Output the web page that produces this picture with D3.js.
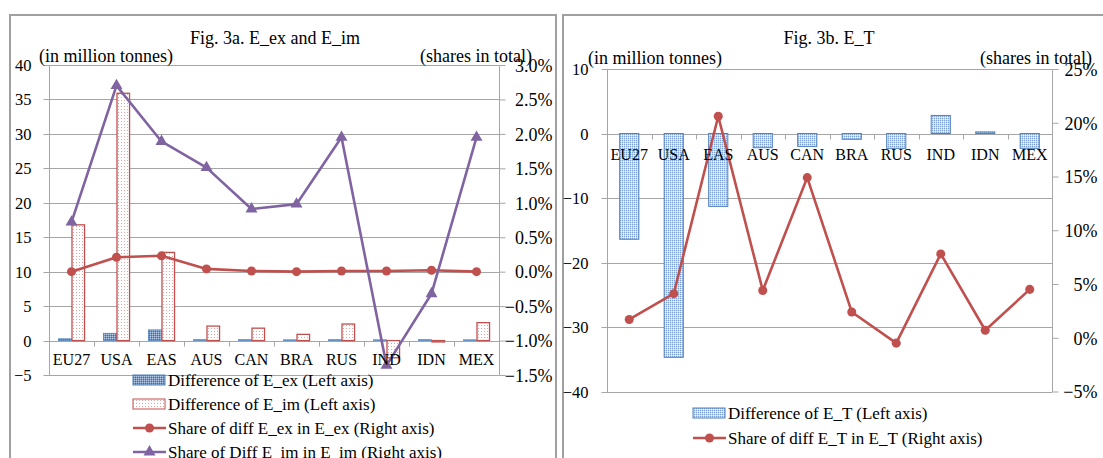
<!DOCTYPE html>
<html>
<head>
<meta charset="utf-8">
<script src="https://cdn.jsdelivr.net/npm/d3@7"></script>
<style>
  body { margin: 0; background: #fff; }
  text { font-family: "Liberation Serif", "Times New Roman", serif; fill: #000; }
</style>
</head>
<body>
<svg id="chart" width="1103" height="458"></svg>
<script>
// Regions, in chart order
const categories = ["EU27", "USA", "EAS", "AUS", "CAN", "BRA", "RUS", "IND", "IDN", "MEX"];

// Fig. 3a: differences (million tonnes) and shares (%)
const diffEx  = [0.25, 1.05, 1.55, 0.12, 0.12, 0.10, 0.12, 0.10, 0.12, 0.10];
const diffIm  = [16.8, 35.9, 12.8, 2.1, 1.8, 0.9, 2.4, -2.5, -0.2, 2.6];
const shareEx = [0.00, 0.21, 0.23, 0.04, 0.01, 0.00, 0.01, 0.01, 0.02, 0.00];
const shareIm = [0.72, 2.70, 1.89, 1.51, 0.91, 0.98, 1.95, -1.36, -0.32, 1.95];

// Fig. 3b: difference of E_T (million tonnes) and its share (%)
const diffT  = [-16.4, -34.7, -11.3, -2.2, -2.0, -0.9, -2.3, 2.8, 0.25, -2.3];
const shareT = [1.7, 4.1, 20.6, 4.4, 14.9, 2.4, -0.5, 7.8, 0.7, 4.5];

// Axis ticks
const ticksA  = [-5, 0, 5, 10, 15, 20, 25, 30, 35, 40];
const ticksAR = [-1.5, -1.0, -0.5, 0.0, 0.5, 1.0, 1.5, 2.0, 2.5, 3.0];
const ticksB  = [-40, -30, -20, -10, 0, 10];
const ticksBR = [-5, 0, 5, 10, 15, 20, 25];

const GRID = "#a6a6a6";
const RED = "#c0504d";
const PURPLE = "#8064a2";
const BLUE = "#4f81bd";

const svg = d3.select("#chart");
const defs = svg.append("defs");

// Textured fills for the bars
function pattern(id, w, bg, dots) {
  const p = defs.append("pattern").attr("id", id)
    .attr("patternUnits", "userSpaceOnUse").attr("width", w).attr("height", w);
  p.append("rect").attr("width", w).attr("height", w).attr("fill", bg);
  dots.forEach(d => p.append("rect").attr("x", d[0]).attr("y", d[1])
    .attr("width", 1).attr("height", 1).attr("fill", d[2]));
}
pattern("patEx", 2, "#6f98d2", [[0, 0, "#b8cdea"], [1, 1, "#3f6fb0"]]);
pattern("patT", 2, "#c9d8ee", [[0, 0, "#7fa2d3"], [1, 1, "#eef3fa"]]);
pattern("patIm", 3, "#ffffff", [[1, 1, "#e2a3a1"]]);

// Panel frames
svg.append("rect").attr("x", 10).attr("y", 15).attr("width", 546).attr("height", 460)
  .attr("fill", "none").attr("stroke", "#a0a0a0").attr("stroke-width", 2);
svg.append("rect").attr("x", 563).attr("y", 15).attr("width", 560).attr("height", 460)
  .attr("fill", "none").attr("stroke", "#a0a0a0").attr("stroke-width", 2);

function styleAxis(g) {
  g.select(".domain").remove();
  g.selectAll(".tick line").attr("stroke", GRID);
}

function panel(opt) {
  const g = svg.append("g");
  const x = d3.scaleBand().domain(categories).range([opt.x0, opt.x1]);
  const yL = d3.scaleLinear().domain(opt.leftDomain).range([opt.yBottom, opt.yTop]);
  const yR = d3.scaleLinear().domain(opt.rightDomain).range([opt.yBottom, opt.yTop]);

  // horizontal gridlines
  g.append("g").selectAll("line").data(opt.leftTicks).join("line")
    .attr("x1", opt.x0).attr("x2", opt.x1)
    .attr("y1", d => Math.round(yL(d)) + 0.5).attr("y2", d => Math.round(yL(d)) + 0.5)
    .attr("stroke", GRID).attr("stroke-width", 1);

  // plot area left and right edges
  [opt.x0, opt.x1].forEach(xx => g.append("line")
    .attr("x1", Math.round(xx) + 0.5).attr("x2", Math.round(xx) + 0.5)
    .attr("y1", Math.round(yL(opt.leftDomain[1])) + 0.5)
    .attr("y2", Math.round(yL(opt.leftDomain[0])) + 0.5)
    .attr("stroke", GRID));

  // left value axis
  const aL = g.append("g").attr("transform", `translate(${Math.round(opt.x0) + 0.5},0)`)
    .call(d3.axisLeft(yL).tickValues(opt.leftTicks).tickSize(6).tickPadding(opt.leftPad)
      .tickFormat(d3.format("d")));
  styleAxis(aL);
  aL.selectAll(".tick").attr("transform", d => `translate(0,${Math.round(yL(d)) + 0.5})`);
  aL.selectAll("text").style("font-size", "16.5px").attr("dy", "0.35em");

  // right share axis
  const aR = g.append("g").attr("transform", `translate(${Math.round(opt.x1) + 0.5},0)`)
    .call(d3.axisRight(yR).tickValues(opt.rightTicks).tickSize(6)
      .tickFormat(opt.rightFormat));
  styleAxis(aR);
  aR.selectAll("text").attr("x", opt.rightLabelEnd).attr("text-anchor", "end")
    .style("font-size", "18px").attr("dy", "0.35em");

  // category axis along zero
  const y0 = Math.round(yL(0)) + 0.5;
  g.append("line").attr("x1", opt.x0).attr("x2", opt.x1).attr("y1", y0).attr("y2", y0)
    .attr("stroke", GRID);
  const bounds = categories.map(c => x(c)).concat([opt.x1]);
  g.append("g").selectAll("line").data(bounds).join("line")
    .attr("x1", d => Math.round(d) + 0.5).attr("x2", d => Math.round(d) + 0.5)
    .attr("y1", y0).attr("y2", y0 + 5).attr("stroke", GRID);

  const plot = g.append("g");
  const labels = g.append("g");
  labels.selectAll("text").data(categories).join("text")
    .attr("x", d => x(d) + x.bandwidth() / 2)
    .attr("y", y0 + opt.catOffset).attr("dy", "0.35em")
    .attr("text-anchor", "middle").style("font-size", "16px").text(d => d);

  // titles
  g.append("text").attr("x", opt.titleX).attr("y", 38).attr("dy", "0.35em")
    .attr("text-anchor", "middle").style("font-size", "18px").text(opt.title);
  g.append("text").attr("x", opt.unitX).attr("y", opt.unitY).attr("dy", "0.35em")
    .style("font-size", "18px").text("(in million tonnes)");
  g.append("text").attr("x", opt.shareEnd).attr("y", opt.unitY).attr("dy", "0.35em")
    .attr("text-anchor", "end").style("font-size", "18px").text("(shares in total)");

  return { g, plot, x, yL, yR };
}

const pct1 = d => d3.format(".1f")(d) + "%";
const pct0 = d => d3.format("d")(d) + "%";

// ---------- Fig. 3a ----------
const A = panel({
  x0: 49, x1: 499, yTop: 65, yBottom: 375,
  leftDomain: [-5, 40], rightDomain: [-1.5, 3.0],
  leftTicks: ticksA, rightTicks: ticksAR, rightFormat: pct1,
  leftPad: 12, rightLabelEnd: 53, catOffset: 18,
  title: "Fig. 3a. E_ex and E_im", titleX: 275,
  unitX: 39, unitY: 56, shareEnd: 532
});

const barW = A.x.bandwidth() * 0.29;
A.plot.append("g").selectAll("rect").data(diffEx).join("rect")
  .attr("x", (d, i) => A.x(categories[i]) + A.x.bandwidth() / 2 - barW)
  .attr("y", d => A.yL(Math.max(0, d)))
  .attr("width", barW)
  .attr("height", d => Math.abs(A.yL(d) - A.yL(0)))
  .attr("fill", "url(#patEx)").attr("stroke", BLUE).attr("stroke-width", 0.8);

A.plot.append("g").selectAll("rect").data(diffIm).join("rect")
  .attr("x", (d, i) => A.x(categories[i]) + A.x.bandwidth() / 2 + 0.5)
  .attr("y", d => A.yL(Math.max(0, d)))
  .attr("width", barW - 0.5)
  .attr("height", d => Math.abs(A.yL(d) - A.yL(0)))
  .attr("fill", "url(#patIm)").attr("stroke", RED).attr("stroke-width", 1.3);

function lineSeries(P, values, color, symbol) {
  const pts = values.map((v, i) => [P.x(categories[i]) + P.x.bandwidth() / 2, P.yR(v)]);
  P.plot.append("path").attr("d", d3.line()(pts))
    .attr("fill", "none").attr("stroke", color).attr("stroke-width", 2.6)
    .attr("stroke-linejoin", "round");
  P.plot.append("g").selectAll("path").data(pts).join("path")
    .attr("transform", d => `translate(${d[0]},${d[1]})`)
    .attr("d", symbol).attr("fill", color);
}
const dot = d3.symbol(d3.symbolCircle, 64)();
const tri = d3.symbol(d3.symbolTriangle, 62)();
lineSeries(A, shareEx, RED, dot);
lineSeries(A, shareIm, PURPLE, tri);

// ---------- Fig. 3b ----------
const B = panel({
  x0: 607, x1: 1052, yTop: 69, yBottom: 391.5,
  leftDomain: [-40, 10], rightDomain: [-5, 25],
  leftTicks: ticksB, rightTicks: ticksBR, rightFormat: pct0,
  leftPad: 13, rightLabelEnd: 45, catOffset: 19.5,
  title: "Fig. 3b. E_T", titleX: 829,
  unitX: 588, unitY: 58, shareEnd: 1092
});

const barWT = B.x.bandwidth() * 0.43;
B.plot.append("g").selectAll("rect").data(diffT).join("rect")
  .attr("x", (d, i) => B.x(categories[i]) + (B.x.bandwidth() - barWT) / 2)
  .attr("y", d => B.yL(Math.max(0, d)))
  .attr("width", barWT)
  .attr("height", d => Math.abs(B.yL(d) - B.yL(0)))
  .attr("fill", "url(#patT)").attr("stroke", BLUE).attr("stroke-width", 1);
lineSeries(B, shareT, RED, dot);

// ---------- Legends ----------
function legend(x, rows, startY, step) {
  const lg = svg.append("g");
  rows.forEach((r, i) => {
    const y = startY + i * step;
    if (r.type === "bar") {
      lg.append("rect").attr("x", x).attr("y", y - 5).attr("width", 32).attr("height", 10)
        .attr("fill", r.fill).attr("stroke", r.stroke).attr("stroke-width", 1);
    } else {
      lg.append("line").attr("x1", x).attr("x2", x + 33).attr("y1", y).attr("y2", y)
        .attr("stroke", r.color).attr("stroke-width", 2.6);
      lg.append("path").attr("transform", `translate(${x + 16.5},${y})`)
        .attr("d", r.symbol).attr("fill", r.color);
    }
    lg.append("text").attr("x", x + 35).attr("y", y).attr("dy", "0.35em")
      .style("font-size", "17px").text(r.label);
  });
}
legend(133, [
  { type: "bar", fill: "url(#patEx)", stroke: BLUE, label: "Difference of E_ex (Left axis)" },
  { type: "bar", fill: "url(#patIm)", stroke: RED, label: "Difference of E_im (Left axis)" },
  { type: "line", color: RED, symbol: dot, label: "Share of diff E_ex in E_ex (Right axis)" },
  { type: "line", color: PURPLE, symbol: tri, label: "Share of Diff E_im in E_im (Right axis)" }
], 380, 24);
legend(693, [
  { type: "bar", fill: "url(#patT)", stroke: BLUE, label: "Difference of E_T (Left axis)" },
  { type: "line", color: RED, symbol: dot, label: "Share of diff E_T in E_T (Right axis)" }
], 413, 25);
</script>
</body>
</html>
